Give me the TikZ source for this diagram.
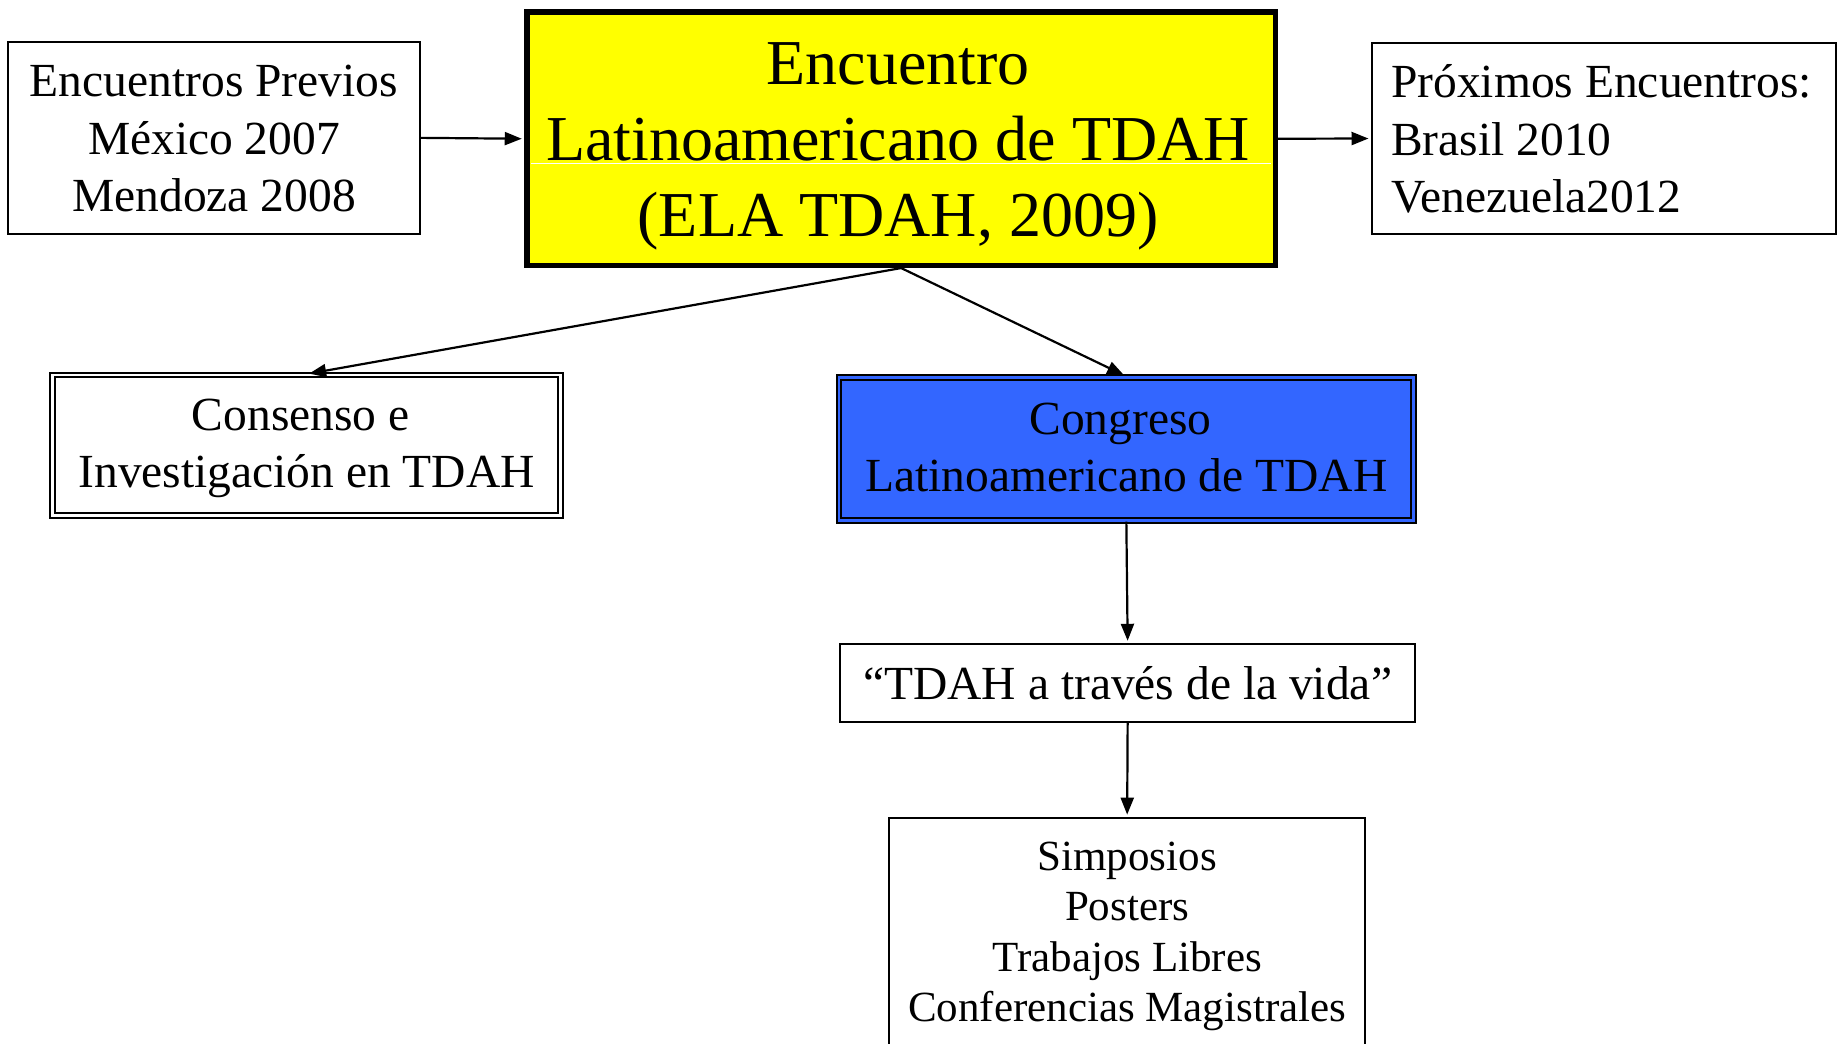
\documentclass[tikz,border=0pt]{standalone}
\usepackage{fontspec}
\setmainfont{Liberation Serif}
\usetikzlibrary{arrows.meta}
\definecolor{ylw}{HTML}{FFFF00}
\definecolor{blu}{HTML}{3366FF}
\begin{document}
\begin{tikzpicture}[x=1pt,y=-1pt,
  box/.style={draw=black, line width=2pt, inner sep=0pt, fill=white},
  mainbox/.style={draw=black, line width=5.5pt, inner sep=0pt, fill=ylw},
  dblbox/.style={draw=black, line width=2pt, double=white, double distance=2.7pt, inner sep=0pt, fill=white},
  bluebox/.style={draw=black, line width=2pt, double=blu, double distance=2.7pt, inner sep=0pt, fill=blu},
  txt/.style={anchor=base, inner sep=0pt, font=\fontsize{47.5}{57.5}\selectfont},
  bigtxt/.style={anchor=base, inner sep=0pt, font=\fontsize{64}{76}\selectfont},
  smalltxt/.style={anchor=base, inner sep=0pt, font=\fontsize{43}{50.6}\selectfont},
  arr/.style={-{Triangle[length=17pt,width=13pt]}, line width=2.2pt, shorten >=2.5pt},
]
\useasboundingbox (0,0) rectangle (1845,1044);
\fill[white] (0,0) rectangle (1845,1044);

% boxes
\node[box, minimum width=411.4pt, minimum height=192.3pt] (A) at (214,137.85) {};
\node[mainbox, minimum width=748.3pt, minimum height=253.1pt] (B) at (901.15,138.75) {};
\node[box, minimum width=464pt, minimum height=191pt] (C) at (1604,138.5) {};
\node[dblbox, minimum width=508pt, minimum height=140.6pt] (D) at (306.65,445.35) {};
\node[bluebox, minimum width=574.6pt, minimum height=143.3pt] (E) at (1126.35,449) {};
\node[box, minimum width=574.7pt, minimum height=77.4pt] (F) at (1127.65,683) {};
\node[box, minimum width=475.7pt, minimum height=231.7pt] (G) at (1127.15,934) {};

% white seam in the main box
\draw[white, line width=0.8pt] (530.5,163) -- (1271,163);

% texts
\node[bigtxt] (Bt) at (898,84) {\begin{tabular}[t]{@{}c@{}}Encuentro\\Latinoamericano de TDAH\\(ELA TDAH, 2009)\end{tabular}};
\node[txt] (At) at (214,96.7) {\begin{tabular}[t]{@{}c@{}}Encuentros Previos\\México 2007\\Mendoza 2008\end{tabular}};
\node[txt, anchor=base west] (Ct) at (1391,97.5) {\begin{tabular}[t]{@{}l@{}}Próximos Encuentros:\\Brasil 2010\\Venezuela2012\end{tabular}};
\node[txt] (Dt) at (306.65,430) {\begin{tabular}[t]{@{}c@{}}Consenso e\kern.25em\\Investigación en TDAH\end{tabular}};
\node[txt] (Et) at (1126.35,434) {\begin{tabular}[t]{@{}c@{}}Congreso\kern.25em\\Latinoamericano de TDAH\end{tabular}};
\node[txt] (Ft) at (1127.6,699.3) {“TDAH a través de la vida”};
\node[smalltxt] (Gt) at (1127.15,870) {\begin{tabular}[t]{@{}c@{}}Simposios\\Posters\\Trabajos Libres\\Conferencias Magistrales\end{tabular}};

% connectors
\draw[arr] (A.east) -- (B.west);
\draw[arr] (B.east) -- (C.west);
\draw[arr] (B.south) -- (D.north);
\draw[arr] (B.south) -- (E.north);
\draw[arr] (E.south) -- (F.north);
\draw[arr] (F.south) -- (G.north);
\end{tikzpicture}
\end{document}
